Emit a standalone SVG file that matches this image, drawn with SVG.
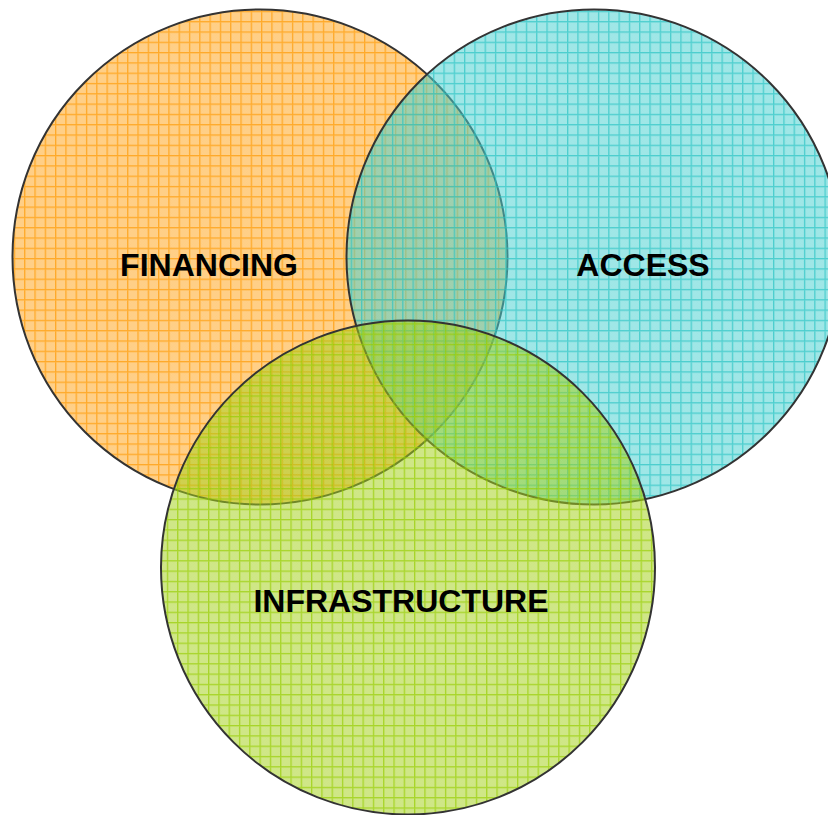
<svg xmlns="http://www.w3.org/2000/svg" width="828" height="815" viewBox="0 0 828 815">
  <defs>
    <!-- fine dotted texture inside each grid cell -->
    <pattern id="dots" patternUnits="userSpaceOnUse" width="2.6" height="2.6">
      <rect x="0" y="0" width="1.3" height="1.3" fill="#ffffff" fill-opacity="0.12"/>
      <rect x="1.3" y="1.3" width="1.3" height="1.3" fill="#ffffff" fill-opacity="0.12"/>
    </pattern>
    <!-- small-grid fills, semi-transparent so overlaps blend -->
    <pattern id="gridOrange" patternUnits="userSpaceOnUse" x="3.5" y="0.5" width="10.3" height="10.3">
      <rect width="10.3" height="10.3" fill="rgb(255,153,0)" fill-opacity="0.5"/>
      <rect width="10.3" height="10.3" fill="url(#dots)"/>
      <rect x="0" y="0" width="10.3" height="1.3" fill="rgb(255,153,0)" fill-opacity="0.7"/>
      <rect x="0" y="1.3" width="1.3" height="9" fill="rgb(255,153,0)" fill-opacity="0.7"/>
    </pattern>
    <pattern id="gridCyan" patternUnits="userSpaceOnUse" x="0.5" y="0.5" width="10.3" height="10.3">
      <rect width="10.3" height="10.3" fill="rgb(51,204,204)" fill-opacity="0.5"/>
      <rect width="10.3" height="10.3" fill="url(#dots)"/>
      <rect x="0" y="0" width="10.3" height="1.3" fill="rgb(40,195,195)" fill-opacity="0.7"/>
      <rect x="0" y="1.3" width="1.3" height="9" fill="rgb(40,195,195)" fill-opacity="0.7"/>
    </pattern>
    <pattern id="gridGreen" patternUnits="userSpaceOnUse" x="2" y="4" width="10.3" height="10.3">
      <rect width="10.3" height="10.3" fill="rgb(153,204,0)" fill-opacity="0.5"/>
      <rect width="10.3" height="10.3" fill="url(#dots)"/>
      <rect x="0" y="0" width="10.3" height="1.3" fill="rgb(150,205,0)" fill-opacity="0.7"/>
      <rect x="0" y="1.3" width="1.3" height="9" fill="rgb(150,205,0)" fill-opacity="0.7"/>
    </pattern>
    <style>
      .ring { stroke: #333333; stroke-width: 2; }
      .label { font-family: "Liberation Sans", Arial, sans-serif; font-weight: bold; font-size: 32px; fill: #000000; text-anchor: middle; }
    </style>
  </defs>

  <rect width="828" height="815" fill="#ffffff"/>

  <g id="financing">
    <circle class="ring" cx="260" cy="257" r="247.5" fill="url(#gridOrange)"/>
  </g>
  <g id="access">
    <circle class="ring" cx="594" cy="257" r="247.5" fill="url(#gridCyan)"/>
  </g>
  <g id="infrastructure">
    <circle class="ring" cx="408" cy="567.5" r="247" fill="url(#gridGreen)"/>
  </g>

  <g id="labels">
    <text class="label" x="209" y="276">FINANCING</text>
    <text class="label" x="643" y="276">ACCESS</text>
    <text class="label" x="401" y="612">INFRASTRUCTURE</text>
  </g>
</svg>
